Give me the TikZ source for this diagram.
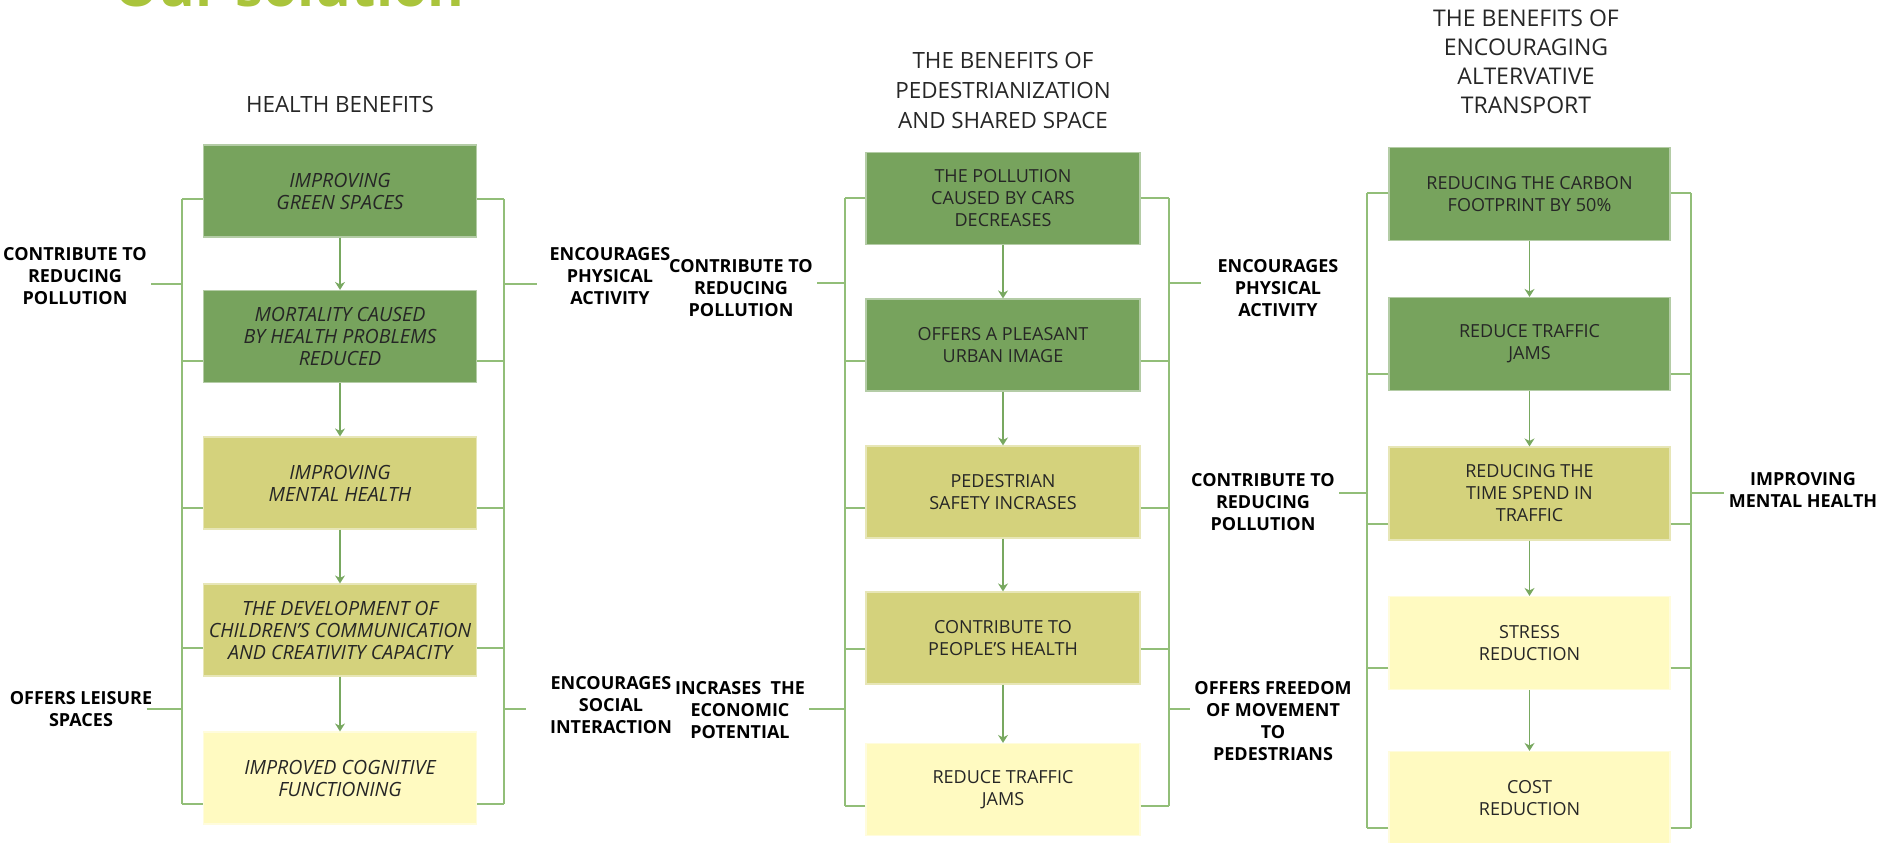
\documentclass[tikz,border=0pt]{standalone}
\usepackage{fontspec}
\setmainfont{Open Sans}
\usetikzlibrary{arrows.meta}
\definecolor{darkleaf}{RGB}{119,163,93}
\definecolor{olive}{RGB}{212,210,124}
\definecolor{paleyellow}{RGB}{255,250,193}
\definecolor{linegreen}{RGB}{146,190,120}
\definecolor{arrowgreen}{RGB}{120,168,96}
\definecolor{titlegreen}{RGB}{170,196,60}
\begin{document}
\begin{tikzpicture}[x=0.5pt,y=-0.5pt,>={Stealth[length=4pt,width=5pt]},
	box/.style={draw=#1!55!white,line width=0.6pt,fill=#1,minimum height=46pt,inner sep=2pt,align=center,text=black!85,font=\fontsize{9}{11}\selectfont},
	hbox/.style={box=#1,minimum width=136.5pt,font=\itshape\fontsize{9.8}{11}\selectfont},
	pbox/.style={box=#1,minimum width=137pt},
	abox/.style={box=#1,minimum width=140.5pt,minimum height=46.5pt},
	lab/.style={align=center,inner sep=2pt,font=\bfseries\fontsize{9}{11}\selectfont},
	head/.style={align=center,text=black!85,font=\fontsize{11.2}{15}\selectfont},
	link/.style={draw=linegreen,line width=0.8pt},
	flow/.style={->,draw=arrowgreen,line width=0.8pt}]
	\useasboundingbox (0,0) rectangle (1882,842);
	% titles
	\node[anchor=base west,text=titlegreen,font=\bfseries\fontsize{28}{30}\selectfont] (sol) at (107,6) {Our solution};
	\node[head] (t1) at (340,104) {HEALTH BENEFITS};
	\node[head] (t2) at (1003,90) {THE BENEFITS OF\\PEDESTRIANIZATION\\AND SHARED SPACE};
	\node[head,font=\fontsize{11.5}{14.5}\selectfont] (t3) at (1526,61.5) {THE BENEFITS OF\\ENCOURAGING\\ALTERVATIVE\\TRANSPORT};
	% health benefits
	\node[hbox=darkleaf] (hb1) at (340,191) {IMPROVING\\GREEN SPACES};
	\node[hbox=darkleaf] (hb2) at (340,336.5) {MORTALITY CAUSED\\BY HEALTH PROBLEMS\\REDUCED};
	\node[hbox=olive] (hb3) at (340,483) {IMPROVING\\MENTAL HEALTH};
	\node[hbox=olive] (hb4) at (340,630) {THE DEVELOPMENT OF\\CHILDREN'S COMMUNICATION\\AND CREATIVITY CAPACITY};
	\node[hbox=paleyellow] (hb5) at (340,778) {IMPROVED COGNITIVE\\FUNCTIONING};
	% pedestrianization
	\node[pbox=darkleaf] (ps1) at (1003,198.5) {THE POLLUTION\\CAUSED BY CARS\\DECREASES};
	\node[pbox=darkleaf] (ps2) at (1003,345) {OFFERS A PLEASANT\\URBAN IMAGE};
	\node[pbox=olive] (ps3) at (1003,492) {PEDESTRIAN\\SAFETY INCRASES};
	\node[pbox=olive] (ps4) at (1003,638) {CONTRIBUTE TO\\PEOPLE'S HEALTH};
	\node[pbox=paleyellow] (ps5) at (1003,789.5) {REDUCE TRAFFIC\\JAMS};
	% alternative transport
	\node[abox=darkleaf] (at1) at (1529.5,194) {REDUCING THE CARBON\\FOOTPRINT BY 50\%};
	\node[abox=darkleaf] (at2) at (1529.5,344) {REDUCE TRAFFIC\\JAMS};
	\node[abox=olive] (at3) at (1529.5,493.5) {REDUCING THE\\TIME SPEND IN\\TRAFFIC};
	\node[abox=paleyellow] (at4) at (1529.5,643) {STRESS\\REDUCTION};
	\node[abox=paleyellow] (at5) at (1529.5,798) {COST\\REDUCTION};
	\foreach \c in {hb,ps,at}
		\foreach \i/\j in {1/2,2/3,3/4,4/5}
			\draw[flow] (\c\i) -- (\c\j);
	% side labels
	\node[lab] (cr1) at (75,276) {CONTRIBUTE TO\\REDUCING\\POLLUTION};
	\node[lab] (ol1) at (81,709) {OFFERS LEISURE\\SPACES};
	\node[lab] (ep1) at (610,276) {ENCOURAGES\\PHYSICAL\\ACTIVITY};
	\node[lab] (es1) at (611,705) {ENCOURAGES\\SOCIAL\\INTERACTION};
	\node[lab] (cr2) at (741,288) {CONTRIBUTE TO\\REDUCING\\POLLUTION};
	\node[lab] (ie2) at (740,710) {INCRASES~~THE\\ECONOMIC\\POTENTIAL};
	\node[lab] (ep2) at (1278,288) {ENCOURAGES\\PHYSICAL\\ACTIVITY};
	\node[lab] (of2) at (1273,721) {OFFERS FREEDOM\\OF MOVEMENT\\TO\\PEDESTRIANS};
	\node[lab] (cr3) at (1263,502) {CONTRIBUTE TO\\REDUCING\\POLLUTION};
	\node[lab] (im3) at (1803,490) {IMPROVING\\MENTAL HEALTH};
	% brackets
	\foreach \i/\y in {1/199,2/361,3/508,4/648,5/804} {
		\draw[link] (hb\i.west |- 0,\y) -- (182,\y);
		\draw[link] (hb\i.east |- 0,\y) -- (504,\y);
	}
	\foreach \i/\y in {1/198,2/361,3/508,4/649,5/806} {
		\draw[link] (ps\i.west |- 0,\y) -- (845,\y);
		\draw[link] (ps\i.east |- 0,\y) -- (1169,\y);
	}
	\foreach \i/\y in {1/193,2/374,3/524,4/668,5/828} {
		\draw[link] (at\i.west |- 0,\y) -- (1367,\y);
		\draw[link] (at\i.east |- 0,\y) -- (1691,\y);
	}
	\draw[link] (182,199) -- (182,804);
	\draw[link] (504,199) -- (504,804);
	\draw[link] (845,198) -- (845,806);
	\draw[link] (1169,198) -- (1169,806);
	\draw[link] (1367,193) -- (1367,828);
	\draw[link] (1691,193) -- (1691,828);
	% label stubs
	\draw[link] (cr1.east |- 0,284) -- (182,284);
	\draw[link] ([xshift=-5pt]ol1.east |- 0,709) -- (182,709);
	\draw[link] (504,284) -- ([xshift=-4pt]ep1.west |- 0,284);
	\draw[link] (504,709) -- ([xshift=-10pt]es1.west |- 0,709);
	\draw[link] (cr2.east |- 0,283) -- (845,283);
	\draw[link] (ie2.east |- 0,709) -- (845,709);
	\draw[link] (1169,283) -- ([xshift=-6pt]ep2.west |- 0,283);
	\draw[link] (1169,709) -- (of2.west |- 0,709);
	\draw[link] (cr3.east |- 0,493) -- (1367,493);
	\draw[link] (1691,493) -- (im3.west |- 0,493);
\end{tikzpicture}
\end{document}
